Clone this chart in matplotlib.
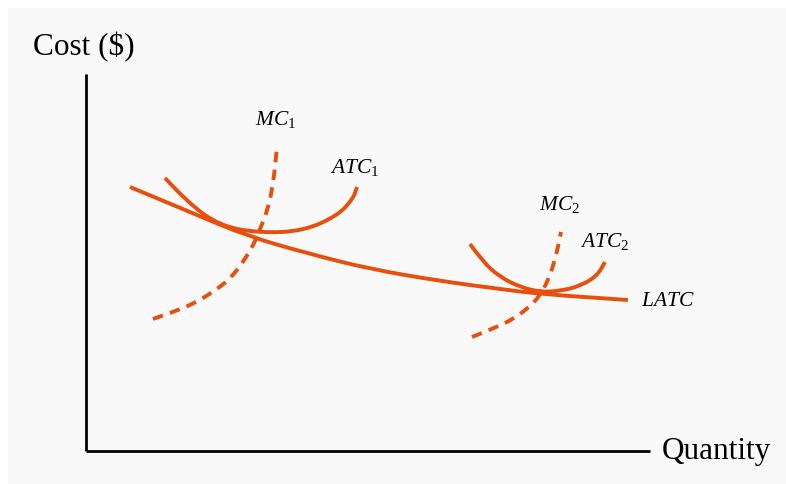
import numpy as np
import matplotlib
matplotlib.use('Agg')
import matplotlib.pyplot as plt
from matplotlib.path import Path
from matplotlib.patches import PathPatch, Rectangle

plt.rcParams['font.family'] = 'Liberation Serif'
plt.rcParams['mathtext.fontset'] = 'custom'
plt.rcParams['mathtext.it'] = 'Liberation Serif:italic'
plt.rcParams['mathtext.rm'] = 'Liberation Serif'

# curves (quantity, cost)
latc_q = [44, 104, 161, 224, 284, 354, 414, 454, 542]
latc_c = [264, 239, 215, 197, 182, 170, 162, 157, 151]

atc1_q = [79, 101, 134, 174, 217, 251, 267, 271]
atc1_c = [273, 249, 225, 218, 220, 235, 252, 264]

mc1_q = [67, 87, 107, 127, 144, 157, 167, 174, 181, 187, 191]
mc1_c = [132, 139, 147, 159, 172, 189, 205, 222, 239, 265, 304]

atc2_q = [384, 397, 414, 434, 454, 474, 494, 511, 519]
atc2_c = [207, 189, 174, 164, 159, 160, 165, 175, 189]

mc2_q = [386, 411, 427, 441, 454, 464, 471, 475]
mc2_c = [114, 124, 132, 142, 155, 175, 199, 219]

orange = '#e64f0c'


# smooth curve through the points (quadratic bezier, library path)
def curva(ax, q, c, estilo='-'):
    pts = np.column_stack([q, c]).astype(float)
    verts = [pts[0]]
    codes = [Path.MOVETO]
    for i in range(1, len(pts) - 1):
        meio = (pts[i] + pts[i + 1]) / 2
        verts += [pts[i], meio]
        codes += [Path.CURVE3, Path.CURVE3]
    verts.append(pts[-1])
    codes.append(Path.LINETO)
    patch = PathPatch(Path(verts, codes), fill=False, edgecolor=orange,
                      lw=2.8, linestyle=estilo, capstyle='butt')
    ax.add_patch(patch)


fig = plt.figure(figsize=(7.86, 4.85), dpi=100, facecolor='white')
fig.patches.append(Rectangle((8 / 786, 0), 1, 476 / 485, transform=fig.transFigure,
                             facecolor='#f9f9f9', edgecolor='none', zorder=-10))
ax = fig.add_axes([0, 0, 1, 1])
ax.set_xlim(-86, 700)
ax.set_ylim(-33, 452)
ax.axis('off')

# eixos
ax.plot([0, 0], [0, 377], color='black', lw=2, solid_capstyle='butt')
ax.plot([0, 564], [0, 0], color='black', lw=2, solid_capstyle='butt')

curva(ax, latc_q, latc_c)
curva(ax, atc1_q, atc1_c)
curva(ax, atc2_q, atc2_c)
curva(ax, mc1_q, mc1_c, (0, (2.7, 1.9)))
curva(ax, mc2_q, mc2_c, (0, (2.7, 1.9)))

ax.text(-2, 405, 'Cost ($)', fontsize=22.5, ha='center', va='center')
ax.text(576, 0, 'Quantity', fontsize=22.5, ha='left', va='center')

ax.text(190, 332, r'$MC_1$', fontsize=15.5, ha='center', va='center')
ax.text(269, 285, r'$ATC_1$', fontsize=15.5, ha='center', va='center')
ax.text(474, 247, r'$MC_2$', fontsize=15.5, ha='center', va='center')
ax.text(519, 210, r'$ATC_2$', fontsize=15.5, ha='center', va='center')
ax.text(555, 150, r'$LATC$', fontsize=15.5, ha='left', va='center')

fig.savefig('out.png', dpi=100, facecolor='white')
